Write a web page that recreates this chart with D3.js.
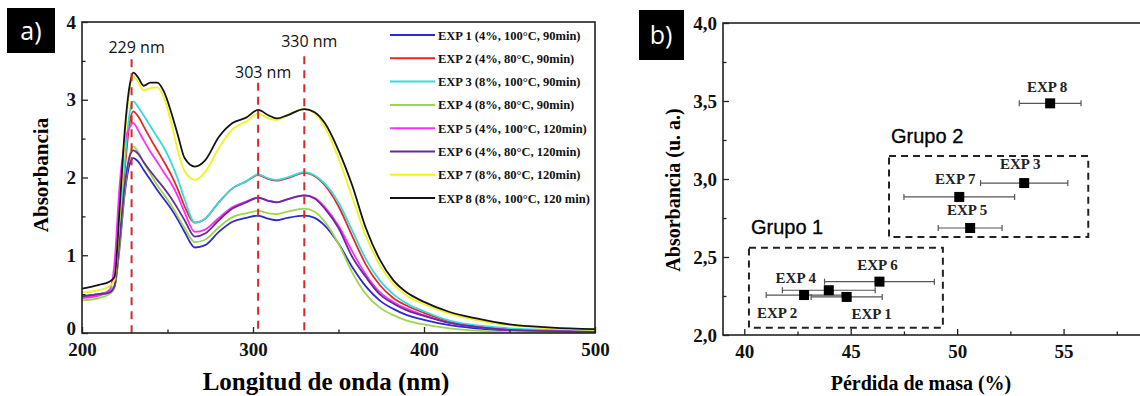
<!DOCTYPE html>
<html>
<head>
<meta charset="utf-8">
<script src="https://cdn.jsdelivr.net/npm/d3@7"></script>
<style>
  body { margin: 0; background: #fff; }
  svg { display: block; }
</style>
</head>
<body>
<svg id="chart" width="1140" height="396"></svg>
<script>
// ---- panel a) espectros UV-Vis ----
const wavelengths = [200, 210, 216, 219, 222, 225, 228, 230, 233, 236, 240, 244, 248, 252, 256, 260, 266, 272, 280, 288,
                     296, 303, 309, 314, 320, 330, 336, 342, 350, 358, 366, 374, 382, 390, 400, 415, 430, 450, 475, 500];

const exp1 = [0.47, 0.50, 0.52, 0.60, 1.10, 1.80, 2.18, 2.25, 2.20, 2.10, 1.97, 1.84, 1.72, 1.60, 1.46, 1.30, 1.10, 1.13, 1.30, 1.43,
              1.48, 1.51, 1.47, 1.45, 1.48, 1.51, 1.48, 1.38, 1.15, 0.85, 0.60, 0.42, 0.31, 0.23, 0.17, 0.10, 0.06, 0.03, 0.015, 0.01];
const exp2 = [0.47, 0.50, 0.53, 0.60, 1.25, 2.10, 2.72, 2.85, 2.78, 2.66, 2.50, 2.35, 2.20, 2.04, 1.85, 1.63, 1.42, 1.47, 1.68, 1.86,
              1.95, 2.03, 1.98, 1.96, 1.99, 2.06, 2.02, 1.90, 1.63, 1.25, 0.88, 0.62, 0.45, 0.35, 0.26, 0.15, 0.09, 0.05, 0.03, 0.02];
const exp3 = [0.48, 0.50, 0.55, 0.62, 1.30, 2.20, 2.85, 2.98, 2.90, 2.80, 2.66, 2.52, 2.38, 2.20, 1.98, 1.72, 1.42, 1.47, 1.68, 1.86,
              1.95, 2.04, 1.99, 1.97, 2.00, 2.07, 2.03, 1.92, 1.68, 1.32, 0.95, 0.68, 0.50, 0.38, 0.28, 0.16, 0.10, 0.06, 0.04, 0.03];
const exp4 = [0.42, 0.45, 0.50, 0.58, 1.15, 1.85, 2.30, 2.40, 2.32, 2.20, 2.05, 1.90, 1.78, 1.65, 1.50, 1.35, 1.17, 1.20, 1.36, 1.49,
              1.54, 1.57, 1.54, 1.53, 1.56, 1.60, 1.56, 1.43, 1.15, 0.78, 0.50, 0.33, 0.23, 0.16, 0.11, 0.06, 0.03, 0.015, 0.01, 0.005];
const exp5 = [0.45, 0.48, 0.55, 0.90, 1.90, 2.45, 2.65, 2.70, 2.60, 2.48, 2.33, 2.20, 2.06, 1.93, 1.76, 1.55, 1.30, 1.33, 1.48, 1.62,
              1.69, 1.74, 1.70, 1.68, 1.72, 1.77, 1.74, 1.62, 1.38, 1.05, 0.75, 0.53, 0.40, 0.31, 0.23, 0.13, 0.08, 0.04, 0.025, 0.015];
const exp6 = [0.47, 0.50, 0.52, 0.60, 1.20, 1.90, 2.28, 2.35, 2.30, 2.20, 2.08, 1.97, 1.86, 1.74, 1.60, 1.45, 1.24, 1.28, 1.45, 1.60,
              1.68, 1.74, 1.70, 1.68, 1.72, 1.77, 1.73, 1.60, 1.35, 0.98, 0.72, 0.50, 0.38, 0.29, 0.22, 0.13, 0.08, 0.04, 0.025, 0.015];
const exp7 = [0.52, 0.55, 0.60, 0.68, 1.50, 2.50, 3.15, 3.30, 3.22, 3.12, 3.15, 3.16, 3.02, 2.72, 2.35, 2.08, 1.97, 2.07, 2.38, 2.62,
              2.72, 2.82, 2.76, 2.74, 2.80, 2.88, 2.83, 2.65, 2.25, 1.75, 1.25, 0.88, 0.63, 0.48, 0.37, 0.25, 0.17, 0.10, 0.06, 0.04];
const exp8 = [0.57, 0.62, 0.66, 0.72, 1.60, 2.60, 3.20, 3.35, 3.28, 3.18, 3.22, 3.22, 3.10, 2.85, 2.55, 2.25, 2.14, 2.22, 2.52, 2.70,
              2.77, 2.87, 2.80, 2.76, 2.80, 2.88, 2.84, 2.70, 2.35, 1.90, 1.35, 0.95, 0.68, 0.52, 0.40, 0.27, 0.19, 0.11, 0.07, 0.05];

const legendLabels = ['EXP 1 (4%, 100°C, 90min)', 'EXP 2 (4%, 80°C, 90min)', 'EXP 3 (8%, 100°C, 90min)', 'EXP 4 (8%, 80°C, 90min)',
                      'EXP 5 (4%, 100°C, 120min)', 'EXP 6 (4%, 80°C, 120min)', 'EXP 7 (8%, 80°C, 120min)', 'EXP 8 (8%, 100°C, 120 min)'];
const lineColors = ['#2a2ad0', '#e8262a', '#33dcdc', '#9ad84a', '#ff2cff', '#6a2a9c', '#f2f21c', '#141414'];

// picos marcados
const peakNm = [229, 303, 330];
const peakLabels = ['229 nm', '303 nm', '330 nm'];
const peakLineTop = [3.52, 3.22, 3.56];
const peakLabelY = [3.6, 3.28, 3.68];

// ---- panel b) absorbancia vs perdida de masa ----
const expNames = ['EXP 1', 'EXP 2', 'EXP 3', 'EXP 4', 'EXP 5', 'EXP 6', 'EXP 7', 'EXP 8'];
const massLoss = [44.81, 42.81, 53.15, 43.97, 50.61, 46.35, 50.10, 54.37];
const massLossErr = [1.67, 1.78, 2.05, 2.18, 1.50, 2.58, 2.60, 1.45];
const absorbance = [2.244, 2.256, 2.974, 2.287, 2.686, 2.342, 2.885, 3.485];

const groupNames = ['Grupo 1', 'Grupo 2'];
const groupX0 = [40.22, 46.80];
const groupX1 = [49.33, 56.16];
const groupY0 = [2.047, 2.628];
const groupY1 = [2.56, 3.147];

// desplazamiento de las etiquetas (px)
const labelOffsets = [[25, 22], [-27, 23], [-4, -14], [-33, -7], [-3, -13], [-2, -12], [-4, -13], [-3, -11]];

const serif = '"Liberation Serif", "Times New Roman", serif';
const sans = '"Liberation Sans", Arial, sans-serif';

const svg = d3.select('#chart');

// ================= panel a =================
const xA = d3.scaleLinear().domain([200, 500]).range([82, 595]);
const yA = d3.scaleLinear().domain([0, 4]).range([333, 22]);

const gA = svg.append('g');

gA.append('clipPath').attr('id', 'clipA')
  .append('rect').attr('x', 82).attr('y', 22).attr('width', 513).attr('height', 311);

const spectra = [exp1, exp2, exp3, exp4, exp5, exp6, exp7, exp8];
const line = d3.line()
  .x(d => xA(d[0]))
  .y(d => yA(d[1]))
  .curve(d3.curveMonotoneX);

const linesG = gA.append('g').attr('clip-path', 'url(#clipA)');
spectra.forEach((s, i) => {
  linesG.append('path')
    .datum(wavelengths.map((w, j) => [w, s[j]]))
    .attr('d', line)
    .attr('fill', 'none')
    .attr('stroke', lineColors[i])
    .attr('stroke-width', 1.8);
});

// lineas de pico
peakNm.forEach((p, i) => {
  gA.append('line')
    .attr('x1', xA(p)).attr('x2', xA(p))
    .attr('y1', yA(peakLineTop[i])).attr('y2', yA(0))
    .attr('stroke', '#d42a2a')
    .attr('stroke-width', 2)
    .attr('stroke-dasharray', '8,6');
  gA.append('text')
    .attr('x', xA(p) + 5).attr('y', yA(peakLabelY[i]))
    .attr('text-anchor', 'middle')
    .attr('font-family', '"Open Sans", sans-serif')
    .attr('font-size', 16)
    .attr('fill', '#111')
    .text(peakLabels[i]);
});

// marco
gA.append('rect')
  .attr('x', 82).attr('y', 22).attr('width', 513).attr('height', 311)
  .attr('fill', 'none').attr('stroke', '#222').attr('stroke-width', 1.6);

// ejes
gA.append('g').attr('transform', 'translate(0,333)')
  .call(d3.axisBottom(xA).tickValues([200, 300, 400, 500]).tickSize(-6).tickPadding(10).tickFormat(d3.format('d')));
gA.append('g').attr('transform', 'translate(0,333)')
  .call(d3.axisBottom(xA).tickValues([250, 350, 450]).tickSize(-3.5).tickFormat(''));
const axAy = gA.append('g').attr('transform', 'translate(82,0)')
  .call(d3.axisLeft(yA).tickValues([0, 1, 2, 3, 4]).tickSize(-6).tickPadding(6).tickFormat(d3.format('d')));
gA.append('g').attr('transform', 'translate(82,0)')
  .call(d3.axisLeft(yA).tickValues([0.5, 1.5, 2.5, 3.5]).tickSize(-3.5).tickFormat(''));

// leyenda
const leg = gA.append('g');
legendLabels.forEach((lab, i) => {
  const yy = 35 + i * 23.3;
  leg.append('line')
    .attr('x1', 390).attr('x2', 435).attr('y1', yy).attr('y2', yy)
    .attr('stroke', lineColors[i]).attr('stroke-width', 2);
  leg.append('text')
    .attr('x', 438).attr('y', yy + 4.5)
    .attr('font-family', serif).attr('font-weight', 'bold').attr('font-size', 12.5)
    .attr('fill', '#111')
    .text(lab);
});

// titulos de ejes
gA.append('text')
  .attr('transform', 'translate(48,175) rotate(-90)')
  .attr('text-anchor', 'middle')
  .attr('font-family', serif).attr('font-weight', 'bold').attr('font-size', 21)
  .text('Absorbancia');
gA.append('text')
  .attr('x', 326).attr('y', 390)
  .attr('text-anchor', 'middle')
  .attr('font-family', serif).attr('font-weight', 'bold').attr('font-size', 25)
  .text('Longitud de onda (nm)');

// etiqueta a)
gA.append('rect').attr('x', 7).attr('y', 8).attr('width', 48).attr('height', 45).attr('fill', '#000');
gA.append('text').attr('x', 31).attr('y', 40).attr('text-anchor', 'middle')
  .attr('font-family', '"Open Sans", sans-serif').attr('font-size', 25).attr('fill', '#fff').text('a)');

// ================= panel b =================
const xB = d3.scaleLinear().domain([39, 60]).range([723, 1170]);
const yB = d3.scaleLinear().domain([2, 4]).range([335, 23]);
const gB = svg.append('g');

gB.append('rect')
  .attr('x', xB(39)).attr('y', yB(4)).attr('width', xB(60) - xB(39)).attr('height', yB(2) - yB(4))
  .attr('fill', 'none').attr('stroke', '#222').attr('stroke-width', 1.6);

gB.append('g').attr('transform', `translate(0,${yB(2)})`)
  .call(d3.axisBottom(xB).tickValues([40, 45, 50, 55]).tickSize(-6).tickPadding(10).tickFormat(d3.format('d')));
gB.append('g').attr('transform', `translate(0,${yB(2)})`)
  .call(d3.axisBottom(xB).tickValues([42.5, 47.5, 52.5, 57.5]).tickSize(-3.5).tickFormat(''));
gB.append('g').attr('transform', `translate(${xB(39)},0)`)
  .call(d3.axisLeft(yB).tickValues([2, 2.5, 3, 3.5, 4]).tickSize(-6).tickPadding(6)
    .tickFormat(d => d.toFixed(1).replace('.', ',')));
gB.append('g').attr('transform', `translate(${xB(39)},0)`)
  .call(d3.axisLeft(yB).tickValues([2.25, 2.75, 3.25, 3.75]).tickSize(-3.5).tickFormat(''));

// cajas de grupos
groupNames.forEach((g, i) => {
  gB.append('rect')
    .attr('x', xB(groupX0[i])).attr('y', yB(groupY1[i]))
    .attr('width', xB(groupX1[i]) - xB(groupX0[i]))
    .attr('height', yB(groupY0[i]) - yB(groupY1[i]))
    .attr('fill', 'none').attr('stroke', '#222').attr('stroke-width', 2)
    .attr('stroke-dasharray', '7,5');
  gB.append('text')
    .attr('x', xB(groupX0[i]) + 2).attr('y', yB(groupY1[i]) - 13.5)
    .attr('font-family', sans).attr('font-size', 20).attr('fill', '#000')
    .attr('stroke', '#000').attr('stroke-width', 0.3)
    .text(g);
});

// barras de error
const pts = expNames.map((n, i) => ({ name: n, x: massLoss[i], e: massLossErr[i], y: absorbance[i], off: labelOffsets[i] }));
const eb = gB.selectAll('.eb').data(pts).enter().append('g').attr('class', 'eb');
eb.append('line')
  .attr('x1', d => xB(d.x - d.e)).attr('x2', d => xB(d.x + d.e))
  .attr('y1', d => yB(d.y)).attr('y2', d => yB(d.y))
  .attr('stroke', '#555').attr('stroke-width', 1.2);
eb.append('line')
  .attr('x1', d => xB(d.x - d.e)).attr('x2', d => xB(d.x - d.e))
  .attr('y1', d => yB(d.y) - 3).attr('y2', d => yB(d.y) + 3)
  .attr('stroke', '#555').attr('stroke-width', 1.2);
eb.append('line')
  .attr('x1', d => xB(d.x + d.e)).attr('x2', d => xB(d.x + d.e))
  .attr('y1', d => yB(d.y) - 3).attr('y2', d => yB(d.y) + 3)
  .attr('stroke', '#555').attr('stroke-width', 1.2);

gB.selectAll('.pt').data(pts).enter().append('rect').attr('class', 'pt')
  .attr('x', d => xB(d.x) - 5).attr('y', d => yB(d.y) - 5)
  .attr('width', 10).attr('height', 10).attr('fill', '#000');

gB.selectAll('.lab').data(pts).enter().append('text').attr('class', 'lab')
  .attr('x', d => xB(d.x) + d.off[0]).attr('y', d => yB(d.y) + d.off[1])
  .attr('text-anchor', 'middle')
  .attr('font-family', serif).attr('font-weight', 'bold').attr('font-size', 15)
  .attr('fill', '#222')
  .text(d => d.name);

gB.append('text')
  .attr('transform', 'translate(680,190) rotate(-90)')
  .attr('text-anchor', 'middle')
  .attr('font-family', serif).attr('font-weight', 'bold').attr('font-size', 20)
  .text('Absorbancia (u. a.)');
gB.append('text')
  .attr('x', 921).attr('y', 390)
  .attr('text-anchor', 'middle')
  .attr('font-family', serif).attr('font-weight', 'bold').attr('font-size', 20)
  .text('Pérdida de masa (%)');

gB.append('rect').attr('x', 639).attr('y', 10).attr('width', 45).attr('height', 50).attr('fill', '#000');
gB.append('text').attr('x', 661).attr('y', 44).attr('text-anchor', 'middle')
  .attr('font-family', '"Open Sans", sans-serif').attr('font-size', 25).attr('fill', '#fff').text('b)');

// estilo comun de los ejes
svg.selectAll('.domain').remove();
svg.selectAll('.tick line').attr('stroke', '#222').attr('stroke-width', 1.3);
svg.selectAll('.tick text')
  .attr('font-family', serif).attr('font-weight', 'bold').attr('font-size', 19).attr('fill', '#111');
// el "0" se sube un poco para no chocar con el "200"
axAy.selectAll('.tick').filter(d => d === 0).select('text').attr('dy', '0.1em');
</script>
</body>
</html>
